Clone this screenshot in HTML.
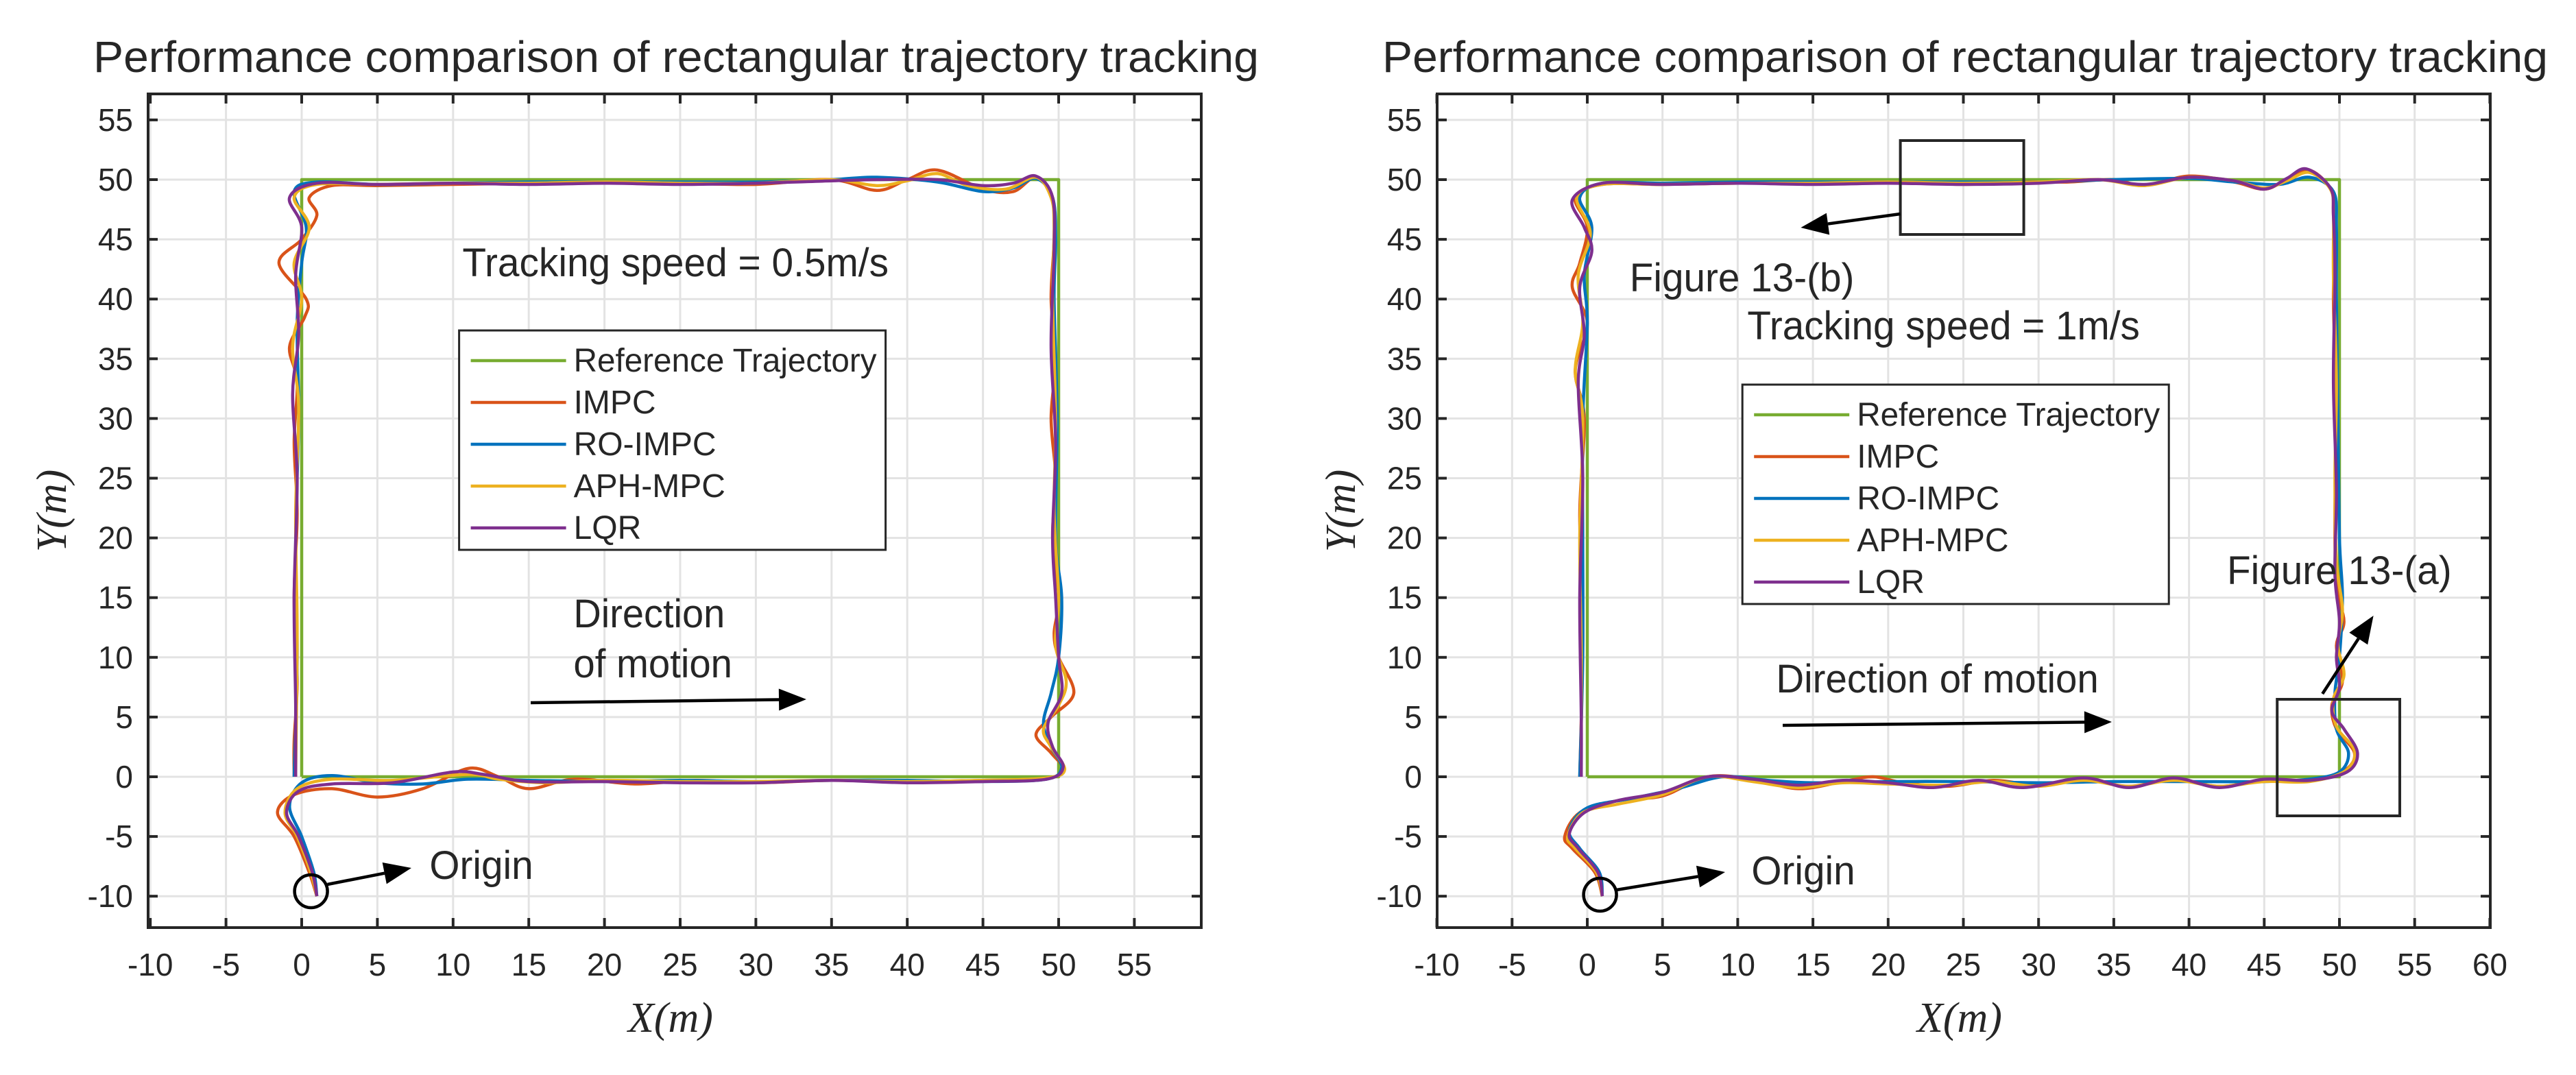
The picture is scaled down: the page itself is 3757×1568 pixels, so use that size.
<!DOCTYPE html>
<html><head><meta charset="utf-8"><style>
html,body{margin:0;padding:0;background:#fff}
svg{display:block}
text{font-family:"Liberation Sans",sans-serif;fill:#262626}
</style></head><body>
<svg id="chart" xmlns="http://www.w3.org/2000/svg" width="3757" height="1568" viewBox="0 0 3757 1568"></svg>
<script>
// ---- data ----
const xTicksA = [-10,-5,0,5,10,15,20,25,30,35,40,45,50,55];
const xTicksB = [-10,-5,0,5,10,15,20,25,30,35,40,45,50,55,60];
const yTicks = [-10,-5,0,5,10,15,20,25,30,35,40,45,50,55];
const seriesNames = ["Reference Trajectory","IMPC","RO-IMPC","APH-MPC","LQR"];
const refPath = [[0,0],[50,0],[50,50],[0,50],[0,0]];
// left panel (0.5 m/s)
const impcA = [[1,-10],[0.5,-8],[-0.5,-5],[-1.6,-3],[-0.5,-1.5],[2,-1],[5,-1.7],[8,-1],[11,0.7],[13,0],[15,-1],[18,-0.2],[22,-0.6],[26,-0.3],[30,-0.5],[35,-0.3],[40,-0.4],[45,-0.3],[49,-0.2],[50.3,0.6],[49.5,2],[48.5,3.5],[49.5,5],[51,7],[50,10],[49.7,12],[50,15],[49.6,20],[49.8,25],[49.5,30],[49.8,35],[49.5,40],[49.7,45],[49.6,48.5],[48.5,50.2],[47,49],[45,49.2],[42,50.8],[40,50],[38,49.1],[35,50],[30,49.6],[25,49.7],[20,49.8],[15,49.7],[10,49.6],[5,49.5],[2,49.5],[0.5,48.5],[1,47],[0,45],[-1.5,43],[0.3,40],[0.2,38.5],[-0.8,36],[-0.3,33],[-0.5,28],[-0.3,22],[-0.5,15],[-0.3,8],[-0.5,3],[-0.5,0]];
const roA = [[1,-10],[0.8,-8],[0,-5],[-0.8,-2.5],[0,-0.5],[2,0.1],[5,-0.5],[8,-0.6],[11,-0.2],[15,-0.3],[20,-0.4],[25,-0.3],[30,-0.4],[35,-0.3],[40,-0.3],[45,-0.4],[49.2,-0.2],[50.2,0.8],[49.5,2.5],[49,4.5],[49.5,7],[50,10],[50.2,15],[49.8,20],[49.9,30],[49.7,40],[49.8,45],[49.6,48.5],[48.5,50.1],[47,49.3],[45,49],[42,49.8],[38,50.2],[35,50],[30,49.8],[25,49.8],[20,49.8],[15,49.8],[10,49.7],[5,49.6],[1,49.8],[-0.5,49],[0.3,46],[0,43],[-0.3,38],[-0.2,30],[-0.4,20],[-0.3,10],[-0.5,0]];
const aphA = [[1,-10],[0.6,-8],[-0.3,-5],[-1.1,-3],[-0.3,-1],[2,-0.2],[6,-0.3],[11,0.2],[13,-0.2],[16,-0.5],[20,-0.3],[25,-0.4],[30,-0.4],[35,-0.3],[40,-0.4],[45,-0.3],[49.2,-0.1],[50.4,0.6],[49.5,2.5],[49,4],[50,6],[50.5,8],[49.8,11],[50,15],[49.7,22],[49.8,30],[49.6,40],[49.7,46],[49.5,48.5],[48.5,50.2],[46.5,49.2],[44,49.5],[42,50.5],[40,49.9],[38,49.5],[35,50],[30,49.7],[25,49.7],[20,49.8],[15,49.7],[10,49.7],[5,49.6],[1,49.6],[-0.5,48.5],[0.5,46],[-0.5,43],[0,40],[-0.6,36],[-0.2,31],[-0.4,22],[-0.3,12],[-0.4,0]];
const lqrA = [[1,-10],[0.7,-8],[-0.2,-5],[-1,-3],[-0.2,-1.2],[2,-0.6],[6,-0.5],[10,0.4],[12,0.2],[15,-0.4],[20,-0.4],[25,-0.5],[30,-0.5],[35,-0.3],[40,-0.5],[45,-0.4],[49.2,-0.2],[50.3,0.8],[49.6,2.5],[49.3,4.5],[50.2,7],[50,10],[49.8,15],[49.6,20],[49.8,28],[49.5,36],[49.7,44],[49.6,48.5],[48.5,50.3],[47,49.7],[45,49.5],[42,50],[38,50],[35,49.9],[30,49.7],[25,49.6],[20,49.7],[15,49.6],[10,49.7],[5,49.6],[1,49.7],[-0.8,48.5],[0,46],[-0.4,42],[-0.2,37],[-0.6,32],[-0.3,25],[-0.5,15],[-0.4,6],[-0.4,0]];
// right panel (1 m/s)
const impcB = [[1,-10],[0.5,-8],[-1,-6],[-1.5,-5],[-0.5,-3],[2,-2],[5,-1.6],[8,0],[11,-0.2],[14,-1],[17,-0.4],[19,0],[21,-0.5],[24,-0.8],[27,-0.3],[30,-0.7],[33,-0.2],[36,-0.8],[39,-0.2],[42,-0.8],[45,-0.3],[48,-0.3],[50.3,0.5],[51,2],[49.8,4],[49.5,6],[50.2,8],[49.8,11],[50.3,13],[49.8,16],[49.7,22],[49.8,30],[49.6,40],[49.7,46],[49.5,49],[48,50.8],[46.5,50],[45,49.2],[43,49.8],[40,50.3],[37,49.5],[35,50],[32,49.8],[29,49.8],[25,49.6],[20,49.8],[15,49.7],[10,49.7],[5,49.6],[1,49.6],[-0.8,48.5],[0,46],[-0.5,43],[-1,41],[0,38],[-0.8,34],[-0.2,30],[-0.5,22],[-0.3,12],[-0.5,0]];
const roB = [[1,-10],[0.8,-8],[-0.5,-6],[-1.2,-4.5],[0,-2.6],[3,-1.8],[6,-1],[9,0],[12,-0.3],[15,-0.5],[20,-0.4],[25,-0.4],[30,-0.5],[35,-0.4],[40,-0.4],[45,-0.4],[48,-0.2],[50,0.4],[50.6,2],[49.8,4],[49.7,7],[50,10],[50.2,15],[50,20],[49.9,30],[49.8,40],[49.8,46],[49.6,49],[48,50.2],[46,49.6],[43,49.8],[40,50.1],[35,50],[30,49.8],[25,49.8],[20,49.8],[15,49.8],[10,49.8],[5,49.7],[1,49.7],[-0.5,48.5],[0.3,46],[-0.2,42],[0,38],[-0.3,30],[-0.3,20],[-0.3,10],[-0.5,0]];
const aphB = [[1,-10],[0.6,-8],[-0.8,-6],[-1.3,-5],[-0.3,-3],[2,-2.3],[5,-1.5],[8,0],[11,-0.4],[14,-0.9],[17,-0.5],[20,-0.6],[24,-0.7],[27,-0.4],[30,-0.8],[33,-0.3],[36,-0.8],[39,-0.3],[42,-0.8],[45,-0.4],[48,-0.4],[50.4,0.5],[51,2.2],[49.8,4.2],[49.6,6.5],[50.3,8.5],[49.9,11],[50.2,14],[49.8,18],[49.7,25],[49.8,33],[49.6,42],[49.6,47],[49.4,49.2],[48,50.6],[46.5,49.9],[45,49.3],[43,49.9],[40,50.2],[37,49.5],[34,50],[30,49.8],[25,49.7],[20,49.8],[15,49.7],[10,49.7],[5,49.6],[1,49.6],[-0.7,48.5],[0.2,45.5],[-0.6,42],[-0.3,38],[-0.8,34],[-0.3,30],[-0.5,20],[-0.4,10],[-0.4,0]];
const lqrB = [[1,-10],[0.7,-8],[-0.6,-6],[-1.2,-4.8],[-0.2,-3],[2,-2],[5,-1.3],[8,0],[11,-0.2],[14,-0.7],[17,-0.3],[20,-0.5],[23,-0.9],[26,-0.3],[29,-0.9],[33,-0.1],[36,-0.9],[39,-0.1],[42,-0.9],[45,-0.2],[48,-0.3],[50.5,0.4],[51.2,2],[50.3,4],[49.5,5.5],[50,7.5],[49.8,10],[50,13],[49.7,17],[49.8,24],[49.6,33],[49.7,42],[49.6,47],[49.4,49.3],[47.8,50.9],[46.5,50.1],[45,49.2],[43,49.9],[40,50.2],[37,49.6],[34,50],[30,49.7],[25,49.6],[20,49.7],[15,49.6],[10,49.7],[5,49.6],[1,49.7],[-1,48.3],[-0.2,46],[0.3,44],[-0.5,41],[-0.2,37],[-0.6,33],[-0.3,25],[-0.5,15],[-0.4,5],[-0.4,0]];

const colors = ["#77AC30","#D95319","#0072BD","#EDB120","#7E2F8E"];
const NS = "http://www.w3.org/2000/svg";
const svg = document.getElementById('chart');
function mk(tag, attrs, parent, txt){
  const e = document.createElementNS(NS, tag);
  for (const k in attrs) e.setAttribute(k, attrs[k]);
  if (txt !== undefined) e.textContent = txt;
  (parent||svg).appendChild(e); return e;
}
function smooth(pts){
  let d = 'M'+pts[0][0].toFixed(1)+','+pts[0][1].toFixed(1);
  for (let i=0;i<pts.length-1;i++){
    const p0=pts[Math.max(0,i-1)],p1=pts[i],p2=pts[i+1],p3=pts[Math.min(pts.length-1,i+2)];
    const c1=[p1[0]+(p2[0]-p0[0])/6,p1[1]+(p2[1]-p0[1])/6];
    const c2=[p2[0]-(p3[0]-p1[0])/6,p2[1]-(p3[1]-p1[1])/6];
    d+='C'+c1.map(v=>v.toFixed(1)).join(',')+' '+c2.map(v=>v.toFixed(1)).join(',')+' '+p2.map(v=>v.toFixed(1)).join(',');
  }
  return d;
}
const K = 1.2; // horizontal factor from layout coords
function panel(cfg){
  const g = mk('g',{});
  
  
  const L=cfg.ox+216, R=cfg.ox+cfg.right, T=137, B=1353;
  const sx = v => cfg.ox + cfg.x0 + v*cfg.kx;
  const sy = v => 1133 - v*17.42;
  const t = mk('text',{x:cfg.ox+136,y:105,'font-size':64,textLength:1700,lengthAdjust:'spacingAndGlyphs'},g,'Performance comparison of rectangular trajectory tracking');
   
  const grid = mk('g',{stroke:'#e3e3e3','stroke-width':3},g);
   
  cfg.xt.forEach(v=>{ const x=sx(v); if(x>L+2&&x<R-2) mk('line',{x1:x,x2:x,y1:T,y2:B},grid); });
  yTicks.forEach(v=>{ const y=sy(v); if(y>T+2&&y<B-2) mk('line',{x1:L,x2:R,y1:y,y2:y},grid); });
  const clip = 'clip'+cfg.ox;
  const cp = mk('clipPath',{id:clip},g); mk('rect',{x:L,y:T,width:R-L,height:B-T},cp);
  const sg = mk('g',{'clip-path':'url(#'+clip+')',fill:'none','stroke-width':4.5,'stroke-linejoin':'round'},g);
  cfg.series.forEach((s,i)=>{
    const pts = s.map(p=>[sx(p[0]),sy(p[1])]);
    const p = mk('path',{d: i===0 ? 'M'+pts.map(q=>q.join(',')).join('L') : smooth(pts), stroke:colors[i]},sg);
    
    
  });
  const ax = mk('g',{stroke:'#262626','stroke-width':4,fill:'none'},g);
   
  mk('rect',{x:L,y:T,width:R-L,height:B-T},ax);
  cfg.xt.forEach(v=>{ const x=sx(v); mk('line',{x1:x,x2:x,y1:B,y2:B-14},ax); mk('line',{x1:x,x2:x,y1:T,y2:T+14},ax); });
  yTicks.forEach(v=>{ const y=sy(v); mk('line',{x1:L,x2:L+14,y1:y,y2:y},ax); mk('line',{x1:R,x2:R-14,y1:y,y2:y},ax); });
  cfg.xt.forEach(v=>{ const e=mk('text',{x:sx(v),y:1423,'font-size':46,'text-anchor':'middle'},g,String(v));
      });
  yTicks.forEach(v=>{ const e=mk('text',{x:cfg.ox+194,y:sy(v)+16,'font-size':46,'text-anchor':'end'},g,String(v));
      });
  const xl = mk('text',{x:cfg.ox+978,y:1505,'font-size':62,'font-style':'italic','text-anchor':'middle',style:'font-family:"Liberation Serif",serif'},g,'X(m)');
   
  const yl = mk('text',{x:0,y:0,'font-size':62,'font-style':'italic','text-anchor':'middle',transform:'translate('+(cfg.ox+96)+',745) rotate(-90)',style:'font-family:"Liberation Serif",serif'},g,'Y(m)');
   
  const lg = mk('g',{},g);
   
  const lx = cfg.ox+cfg.legend[0]*K, ly = cfg.legend[1];
  mk('rect',{x:lx,y:ly,width:622,height:320,fill:'#fff',stroke:'#262626','stroke-width':3},lg);
  seriesNames.forEach((n,i)=>{
    const y = ly+44+i*61;
    const en = mk('g',{},lg);
     
    mk('line',{x1:lx+17,x2:lx+156,y1:y,y2:y,stroke:colors[i],'stroke-width':4.5},en);
    const a = {x:lx+167,y:y+16,'font-size':48};
    if (i===0) { a.textLength = 442; a.lengthAdjust='spacingAndGlyphs'; }
    mk('text',a,en,n);
  });
  return g;
}
function arrow(x1,y1,x2,y2,name){
  x1*=K; x2*=K;
  const g = mk('g',{});
   
  const a=Math.atan2(y2-y1,x2-x1), L=40, W=16;
  const bx=x2-L*Math.cos(a), by=y2-L*Math.sin(a);
  mk('line',{x1:x1,y1:y1,x2:bx,y2:by,stroke:'#000','stroke-width':4.5},g);
  mk('polygon',{points:[x2+','+y2,(bx+W*Math.sin(a))+','+(by-W*Math.cos(a)),(bx-W*Math.sin(a))+','+(by+W*Math.cos(a))].join(' '),fill:'#000'},g);
}
function label(x,y,s,name,w){ const a={x:x*K,y:y,'font-size':58}; if(w){a.textLength=w*K;a.lengthAdjust='spacingAndGlyphs';} const e=mk('text',a,svg,s);   }
function box(x,y,w,h,name){ const e=mk('rect',{x:x*K,y:y,width:w*K,height:h,fill:'none',stroke:'#262626','stroke-width':4});   }
function circ(cx,cy,name){ const e=mk('ellipse',{cx:cx*K,cy:cy,rx:24,ry:24,fill:'none',stroke:'#000','stroke-width':4.5});   }

panel({name:'left-panel',ox:0,right:1752,x0:440,kx:22.08,xt:xTicksA,legend:[558,482],series:[refPath,impcA,roA,aphA,lqrA]});
panel({name:'right-panel',ox:1880,right:1752,x0:435,kx:21.94,xt:xTicksB,legend:[551,561],series:[refPath,impcB,roB,aphB,lqrB]});

label(562,403,'Tracking speed = 0.5m/s','speed-label',518);
label(697,915,'Direction','direction-label',184);
label(697,988,'of motion','direction-label-2',193);
arrow(645,1025,980,1020,'direction-arrow');
circ(378,1300,'origin-marker');
arrow(398,1290,500,1266,'origin-arrow');
label(522,1282,'Origin','origin-label',126);
const o=1880/K;
box(o+743,205,150,137,'zoom-box-b');
arrow(o+743,312,o+622,332,'zoom-arrow-b');
label(o+414,425,'Figure 13-(b)','figure-13b-label',273);
label(o+557,495,'Tracking speed = 1m/s','speed-label-right',477);
label(o+1140,852,'Figure 13-(a)','figure-13a-label',273);
box(o+1201,1020,149,170,'zoom-box-a');
arrow(o+1256,1012,o+1318,898,'zoom-arrow-a');
label(o+592,1010,'Direction of motion','direction-label-right',392);
arrow(o+600,1058,o+1000,1053,'direction-arrow-right');
circ(o+378,1305,'origin-marker-right');
arrow(o+398,1298,o+530,1272,'origin-arrow-right');
label(o+562,1290,'Origin','origin-label-right',126);
</script>
</body></html>
